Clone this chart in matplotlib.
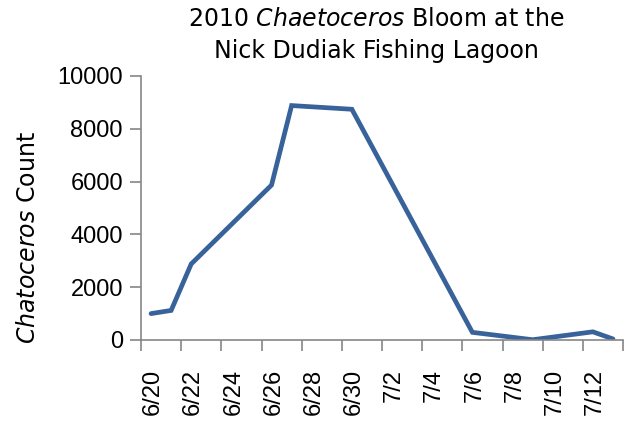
import matplotlib
matplotlib.use("Agg")
import matplotlib.pyplot as plt
import matplotlib.dates as mdates
import numpy as np
import pandas as pd

# sample dates and counts
dates = ["2010-06-20", "2010-06-21", "2010-06-22", "2010-06-26", "2010-06-27",
         "2010-06-30", "2010-07-06", "2010-07-09", "2010-07-12", "2010-07-13"]
counts = [1000, 1120, 2880, 5870, 8880, 8740, 290, 10, 310, 40]

tick_dates = pd.date_range("2010-06-20", "2010-07-12", freq="2D")
tick_labels = [f"{d.month}/{d.day}" for d in tick_dates]

x = mdates.date2num(pd.to_datetime(dates))
xt = mdates.date2num(tick_dates)

fig = plt.figure(figsize=(6.32, 4.21), dpi=100)
ax = fig.add_axes([141 / 632, 1 - 340 / 421, 482 / 632, 264 / 421])

ax.plot(x, counts, color="#38629a", lw=3.4, solid_joinstyle="miter",
        solid_capstyle="round")

ax.set_ylim(0, 10000)
ax.set_yticks(np.arange(0, 10001, 2000))
ax.set_xlim(xt[0] - 0.5, xt[-1] + 1.5)

# tick marks sit on category boundaries, labels in the middle of each day
ax.set_xticks(np.append(xt - 0.5, xt[-1] + 1.5))
ax.set_xticklabels([])
ax.set_xticks(xt + 0.1, minor=True)
ax.set_xticklabels(tick_labels, minor=True, rotation=90, va="top", ha="center",
                   fontfamily="Liberation Sans", fontsize=17)
ax.tick_params(axis="x", which="minor", length=0, pad=21)
ax.tick_params(axis="x", which="major", length=8, width=1.2, color="#868686",
               direction="out")
ax.tick_params(axis="y", length=8, width=1.2, color="#868686", pad=5,
               labelsize=17)
for lbl in ax.get_yticklabels():
    lbl.set_fontfamily("Liberation Sans")

for side in ["top", "right"]:
    ax.spines[side].set_visible(False)
for side in ["left", "bottom"]:
    ax.spines[side].set_color("#868686")
    ax.spines[side].set_linewidth(1.2)

yl = ax.set_ylabel(r"$\it{Chatoceros}$ Count", fontfamily="DejaVu Sans",
                   fontsize=17)
yl.set_math_fontfamily("dejavusans")
ax.yaxis.set_label_coords((40 - 141) / 482, (340 - 238) / 264)

t1 = fig.text(376 / 632, 1 - 19 / 421, "2010 $\\it{Chaetoceros}$ Bloom at the",
              ha="center", va="center", fontsize=17, fontfamily="DejaVu Sans")
t1.set_math_fontfamily("dejavusans")
fig.text(376 / 632, 1 - 51 / 421, "Nick Dudiak Fishing Lagoon",
         ha="center", va="center", fontsize=17, fontfamily="DejaVu Sans")

fig.savefig("out.png", dpi=100)
